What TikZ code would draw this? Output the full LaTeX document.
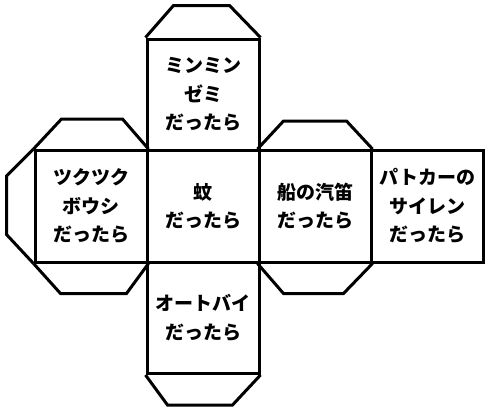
\documentclass[tikz,border=0pt]{standalone}
\usepackage{fontspec}
\newfontfamily\jp{Noto Sans CJK JP}
\usetikzlibrary{calc}
\tikzset{
  face/.style={draw=black, line width=3pt, minimum width=112pt, minimum height=111.5pt, inner sep=0pt, align=center,
    font=\jp\bfseries\fontsize{19}{28.5}\selectfont},
  flap/.style={draw=black, line width=3pt, line join=miter}
}
\begin{document}
\begin{tikzpicture}[x=1pt,y=-1pt]
\useasboundingbox (0,0) rectangle (493,416);
\node[face] (top) at (203,94.75) {ミンミン\\ゼミ\\だったら};
\node[face] (left) at (91,206.25) {ツクツク\\ボウシ\\だったら};
\node[face] (mid) at (203,206.25) {蚊\\だったら};
\node[face] (ship) at (315,206.25) {船の汽笛\\だったら};
\node[face] (patrol) at (427.5,206.25) {パトカーの\\サイレン\\だったら};
\node[face] (bottom) at (203,317.75) {オートバイ\\だったら};
% flaps
\draw[flap] (top.north west) -- +(28,-32) -- ($(top.north east)+(-31,-32)$) -- (top.north east);
\draw[flap] (left.north west) -- +(28,-30) -- ($(left.north east)+(-26,-30)$) -- (left.north east);
\draw[flap] (left.north west) -- +(-27,27) -- ($(left.south west)+(-27,-29)$) -- (left.south west);
\draw[flap] (left.south west) -- +(27,30) -- ($(left.south east)+(-22,30)$) -- (left.south east);
\draw[flap] (ship.north west) -- +(26,-28) -- ($(ship.north east)+(-26,-28)$) -- (ship.north east);
\draw[flap] (ship.south west) -- +(26,30) -- ($(ship.south east)+(-29,30)$) -- (ship.south east);
\draw[flap] (bottom.south west) -- +(22,30) -- ($(bottom.south east)+(-28,30)$) -- (bottom.south east);
\end{tikzpicture}
\end{document}
